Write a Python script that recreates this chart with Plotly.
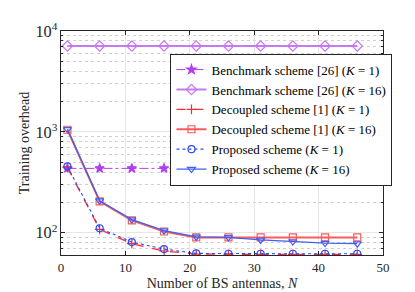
import plotly.graph_objects as go

N = [1, 6, 11, 16, 21, 26, 31, 36, 41, 46]
bench_k1 = [435] * 10
bench_k16 = [7100] * 10
decoup_k1 = [445, 108, 78, 66, 61.5, 61, 61, 61, 61, 61]
decoup_k16 = [1050, 205, 133, 103, 90, 90, 90, 90, 90, 90]
prop_k1 = [455, 111, 81, 69, 62.5, 62, 62, 62, 62, 62]
prop_k16 = [1060, 208, 135, 105, 91, 90, 85, 82, 79, 78]

x_ticks = [0, 10, 20, 30, 40, 50]

FONT = "Liberation Serif"
PURPLE = "#B43CF0"
PURPLE_L = "#C878F2"
RED = "#FF2A2A"
RED_L = "#FF5A5A"
BLUE = "#2D4BF0"
BLUE_L = "#4060F0"

fig = go.Figure()

def add(y, name, color, dash, symbol, width, msize, fill=False):
    fig.add_trace(go.Scatter(
        x=N, y=y, name=name, mode="lines+markers",
        line=dict(color=color, width=width, dash=dash),
        marker=dict(symbol=symbol, size=msize,
                    color=color if fill else "rgba(255,255,255,0)",
                    line=dict(color=color, width=1.2)),
    ))

add(bench_k1, "Benchmark scheme [26] (<i>K</i> = 1)", PURPLE, "dashdot", "star", 1, 7, fill=True)
add(bench_k16, "Benchmark scheme [26] (<i>K</i> = 16)", PURPLE_L, "solid", "diamond", 2, 8)
add(decoup_k1, "Decoupled scheme [1] (<i>K</i> = 1)", RED, "dash", "cross-thin", 1.3, 7)
add(decoup_k16, "Decoupled scheme [1] (<i>K</i> = 16)", RED_L, "solid", "square", 2, 7)
add(prop_k1, "Proposed scheme (<i>K</i> = 1)", BLUE, "dot", "circle", 1.1, 7)
add(prop_k16, "Proposed scheme (<i>K</i> = 16)", BLUE_L, "solid", "triangle-down", 1.3, 7)

axis_common = dict(
    showline=True, linecolor="#262626", linewidth=1, mirror="ticks",
    ticks="inside", ticklen=4, tickcolor="#262626",
    gridcolor="#E6E6E6", gridwidth=1, zeroline=False,
    tickfont=dict(family=FONT, size=13, color="#262626"),
)

fig.update_xaxes(
    range=[0, 50], tickvals=x_ticks,
    title=dict(text="Number of BS antennas, <i>N</i>", font=dict(family=FONT, size=14, color="#262626"), standoff=4),
    **axis_common,
)
fig.update_yaxes(
    type="log", range=[1.78, 4], tickmode="linear", tick0=0, dtick=1,
    exponentformat="power", showexponent="all",
    title=dict(text="Training overhead", font=dict(family=FONT, size=14, color="#262626"), standoff=2),
    minor=dict(dtick="D1", ticks="inside", ticklen=2, tickcolor="#262626", showgrid=True,
               gridcolor="#D0D0D0", griddash="dot", gridwidth=1),
    **axis_common,
)

fig.update_layout(
    width=415, height=292,
    margin=dict(l=53, r=40, t=22, b=33),
    paper_bgcolor="white", plot_bgcolor="white",
    font=dict(family=FONT, color="#262626"),
    legend=dict(
        x=0.34, y=0.899, xanchor="left", yanchor="top",
        bgcolor="white", bordercolor="#262626", borderwidth=1,
        font=dict(family=FONT, size=13, color="#000000"),
        itemwidth=30, tracegroupgap=0,
    ),
    showlegend=True,
)

fig.write_html("out.html")
